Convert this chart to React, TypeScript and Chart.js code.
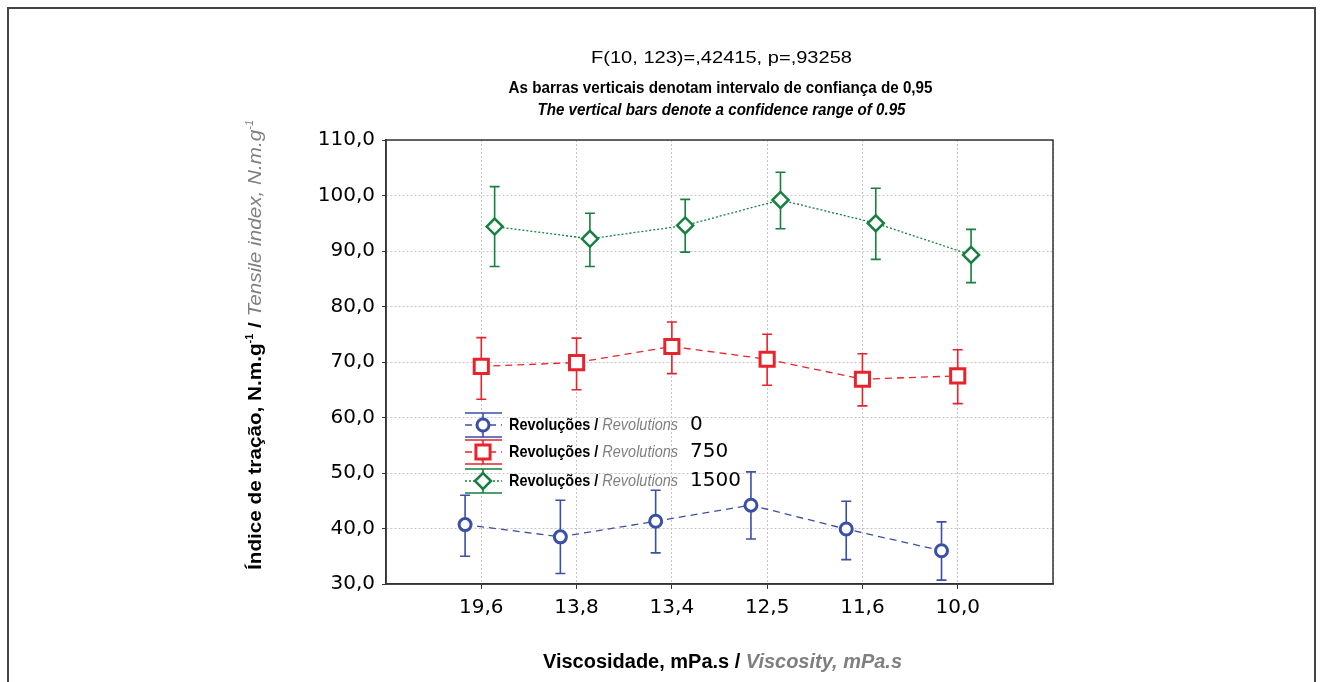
import React, { useEffect, useRef } from 'react';
import { Chart, registerables } from 'chart.js';

Chart.register(...registerables);

// ---- data ----
const categories = ['19,6', '13,8', '13,4', '12,5', '11,6', '10,0'];
const seriesNames = ['0', '750', '1500'];

const rev0Mean = [40.7, 38.5, 41.3, 44.2, 39.9, 36.0];
const rev0Low = [35.0, 31.9, 35.6, 38.1, 34.4, 30.7];
const rev0High = [46.0, 45.1, 46.9, 50.2, 44.9, 41.2];

const rev750Mean = [69.2, 69.9, 72.8, 70.5, 66.9, 67.5];
const rev750Low = [63.3, 65.0, 67.9, 65.8, 62.1, 62.5];
const rev750High = [74.4, 74.3, 77.2, 75.0, 71.5, 72.2];

const rev1500Mean = [94.4, 92.2, 94.6, 99.2, 95.0, 89.3];
const rev1500Low = [87.2, 87.2, 89.8, 94.0, 88.5, 84.3];
const rev1500High = [101.6, 96.8, 99.3, 104.2, 101.3, 93.9];

const yMin = 30;
const yMax = 110;
const yStep = 10;

const titleLine1 = 'F(10, 123)=,42415, p=,93258';
const titleLine2 = 'As barras verticais denotam intervalo de confiança de 0,95';
const titleLine3 = 'The vertical bars denote a confidence range of 0.95';

// ---- styles ----
const BLUE = '#3a4fa6';
const RED = '#e8232b';
const GREEN = '#15803f';
const GRAY_TXT = '#7f7f7f';
const SANS = '"Liberation Sans", Arial, sans-serif';
const NUMFONT = '"DejaVu Sans", sans-serif';

type Seg = { text: string; font: string; color: string; sup?: boolean };

function drawSegs(
  ctx: CanvasRenderingContext2D,
  segs: Seg[],
  x: number,
  y: number,
  align: 'center' | 'left',
  targetWidth?: number
) {
  ctx.save();
  ctx.textBaseline = 'middle';
  ctx.textAlign = 'left';
  let total = 0;
  const widths = segs.map((s) => {
    ctx.font = s.font;
    const w = ctx.measureText(s.text).width;
    total += w;
    return w;
  });
  const k = targetWidth ? targetWidth / total : 1;
  ctx.translate(x, y);
  ctx.scale(k, 1);
  let cx = align === 'center' ? -total / 2 : 0;
  segs.forEach((s, i) => {
    ctx.font = s.font;
    ctx.fillStyle = s.color;
    ctx.fillText(s.text, cx, s.sup ? -6 : 0);
    cx += widths[i];
  });
  ctx.restore();
}

const offsets = [-0.17, 0, 0.14];

function pts(means: number[], k: number) {
  return means.map((v, i) => ({ x: i + 1 + offsets[k], y: v }));
}

const lows = [rev0Low, rev750Low, rev1500Low];
const highs = [rev0High, rev750High, rev1500High];

export default function App() {
  const ref = useRef<HTMLCanvasElement | null>(null);

  useEffect(() => {
    if (!ref.current) return;

    const bgPlugin = {
      id: 'bgFrame',
      beforeDraw(chart: any) {
        const ctx = chart.ctx as CanvasRenderingContext2D;
        ctx.save();
        ctx.fillStyle = '#fff';
        ctx.fillRect(0, 0, chart.width, chart.height);
        ctx.strokeStyle = '#444';
        ctx.lineWidth = 2;
        ctx.beginPath();
        ctx.moveTo(8, chart.height + 5);
        ctx.lineTo(8, 8);
        ctx.lineTo(1315, 8);
        ctx.lineTo(1315, chart.height + 5);
        ctx.stroke();
        ctx.restore();
      },
    };

    const errPlugin = {
      id: 'errBars',
      beforeDatasetsDraw(chart: any) {
        const ctx = chart.ctx as CanvasRenderingContext2D;
        const xs = chart.scales.x;
        const ys = chart.scales.y;
        ctx.save();
        chart.data.datasets.forEach((ds: any, k: number) => {
          ctx.strokeStyle = ds.borderColor;
          ctx.lineWidth = 1.6;
          ctx.setLineDash([]);
          ds.data.forEach((p: any, i: number) => {
            const px = xs.getPixelForValue(p.x);
            const lo = ys.getPixelForValue(lows[k][i]);
            const hi = ys.getPixelForValue(highs[k][i]);
            ctx.beginPath();
            ctx.moveTo(px, lo);
            ctx.lineTo(px, hi);
            ctx.moveTo(px - 5, lo);
            ctx.lineTo(px + 5, lo);
            ctx.moveTo(px - 5, hi);
            ctx.lineTo(px + 5, hi);
            ctx.stroke();
          });
        });
        ctx.restore();
      },
    };

    const decoPlugin = {
      id: 'deco',
      afterDraw(chart: any) {
        const ctx = chart.ctx as CanvasRenderingContext2D;
        const a = chart.chartArea;
        // plot frame
        ctx.save();
        ctx.strokeStyle = '#333';
        ctx.lineWidth = 1.5;
        ctx.setLineDash([]);
        ctx.strokeRect(a.left, a.top, a.right - a.left, a.bottom - a.top);
        ctx.restore();

        const cx = (a.left + a.right) / 2;
        // titles
        drawSegs(ctx, [{ text: titleLine1, font: `17px ${SANS}`, color: '#000' }], cx + 2, 58, 'center', 261);
        drawSegs(ctx, [{ text: titleLine2, font: `bold 17px ${SANS}`, color: '#000' }], cx + 1, 88, 'center', 424);
        drawSegs(ctx, [{ text: titleLine3, font: `italic bold 17px ${SANS}`, color: '#000' }], cx + 2, 110, 'center', 368);

        // x title
        drawSegs(
          ctx,
          [
            { text: 'Viscosidade, mPa.s / ', font: `bold 20px ${SANS}`, color: '#000' },
            { text: 'Viscosity, mPa.s', font: `italic bold 20px ${SANS}`, color: GRAY_TXT },
          ],
          cx + 3,
          662,
          'center',
          359
        );

        // y title
        ctx.save();
        ctx.translate(256, 345);
        ctx.rotate(-Math.PI / 2);
        drawSegs(
          ctx,
          [
            { text: 'Índice de tração, N.m.g', font: `bold 19px ${SANS}`, color: '#000' },
            { text: '-1', font: `bold 10px ${SANS}`, color: '#000', sup: true },
            { text: ' / ', font: `bold 19px ${SANS}`, color: '#000' },
            { text: 'Tensile index, N.m.g', font: `italic 19px ${SANS}`, color: GRAY_TXT },
            { text: '-1', font: `italic 10px ${SANS}`, color: GRAY_TXT, sup: true },
          ],
          0,
          0,
          'center',
          450
        );
        ctx.restore();

        // legend
        const rows = [425, 452, 481];
        chart.data.datasets.forEach((ds: any, k: number) => {
          const cy = rows[k];
          const mx = 483;
          ctx.save();
          ctx.strokeStyle = ds.borderColor;
          ctx.lineWidth = 1.6;
          ctx.beginPath();
          ctx.moveTo(465, cy - 12);
          ctx.lineTo(502, cy - 12);
          ctx.moveTo(465, cy + 12);
          ctx.lineTo(502, cy + 12);
          ctx.moveTo(mx, cy - 12);
          ctx.lineTo(mx, cy + 12);
          ctx.stroke();
          ctx.setLineDash(ds.borderDash);
          ctx.lineWidth = ds.borderWidth;
          ctx.beginPath();
          ctx.moveTo(465, cy);
          ctx.lineTo(502, cy);
          ctx.stroke();
          ctx.setLineDash([]);
          ctx.fillStyle = '#fff';
          ctx.lineWidth = ds.pointBorderWidth;
          ctx.beginPath();
          const st = ds.pointStyle;
          const r = ds.pointRadius;
          if (st === 'circle') {
            ctx.arc(mx, cy, r, 0, Math.PI * 2);
          } else if (st === 'rect') {
            const s = Math.SQRT1_2 * r;
            ctx.rect(mx - s, cy - s, 2 * s, 2 * s);
          } else {
            ctx.moveTo(mx - r, cy);
            ctx.lineTo(mx, cy - r);
            ctx.lineTo(mx + r, cy);
            ctx.lineTo(mx, cy + r);
            ctx.closePath();
          }
          ctx.fill();
          ctx.stroke();
          ctx.restore();
          drawSegs(
            ctx,
            [
              { text: 'Revoluções / ', font: `bold 17px ${SANS}`, color: '#000' },
              { text: 'Revolutions', font: `italic 17px ${SANS}`, color: GRAY_TXT },
            ],
            509,
            cy,
            'left',
            169
          );
          drawSegs(ctx, [{ text: seriesNames[k], font: `20px ${NUMFONT}`, color: '#000' }], 690, cy, 'left');
        });
      },
    };

    const tickCol = (c: any) => {
      const v = c.tick ? c.tick.value : 0;
      return v === 0 || v === 7 ? 'rgba(0,0,0,0)' : '#333';
    };

    const chart = new Chart(ref.current, {
      type: 'scatter',
      data: {
        datasets: [
          {
            label: seriesNames[0],
            data: pts(rev0Mean, 0),
            showLine: true,
            borderColor: BLUE,
            backgroundColor: '#fff',
            borderWidth: 1.3,
            borderDash: [7, 5],
            pointStyle: 'circle',
            pointRadius: 6,
            pointBorderWidth: 3,
            pointBackgroundColor: '#fff',
            pointBorderColor: BLUE,
          } as any,
          {
            label: seriesNames[1],
            data: pts(rev750Mean, 1),
            showLine: true,
            borderColor: RED,
            backgroundColor: '#fff',
            borderWidth: 1.3,
            borderDash: [7, 5],
            pointStyle: 'rect',
            pointRadius: 10,
            pointBorderWidth: 3,
            pointBackgroundColor: '#fff',
            pointBorderColor: RED,
          } as any,
          {
            label: seriesNames[2],
            data: pts(rev1500Mean, 2),
            showLine: true,
            borderColor: GREEN,
            backgroundColor: '#fff',
            borderWidth: 1.3,
            borderDash: [2, 2],
            pointStyle: 'rectRot',
            pointRadius: 8,
            pointBorderWidth: 2.5,
            pointBackgroundColor: '#fff',
            pointBorderColor: GREEN,
          } as any,
        ],
      },
      options: {
        animation: false,
        responsive: false,
        maintainAspectRatio: false,
        layout: { padding: { left: 290, right: 269, top: 140, bottom: 58 } },
        plugins: { legend: { display: false }, tooltip: { enabled: false }, title: { display: false } },
        scales: {
          x: {
            type: 'linear',
            min: 0,
            max: 7,
            afterFit: (s: any) => {
              s.height = 40;
            },
            afterBuildTicks: (s: any) => {
              s.ticks = [0, 1, 2, 3, 4, 5, 6, 7].map((v) => ({ value: v }));
            },
            ticks: {
              autoSkip: false,
              maxRotation: 0,
              minRotation: 0,
              padding: 7,
              color: '#000',
              font: { family: 'DejaVu Sans', size: 20 },
              callback: (v: any) => {
                const i = Math.round(Number(v)) - 1;
                return i >= 0 && i < categories.length ? categories[i] : '';
              },
            },
            grid: {
              color: '#c4c4c4',
              lineWidth: 1,
              tickLength: 5,
              tickColor: tickCol,
              tickBorderDash: [],
            } as any,
            border: { display: true, color: '#333', width: 1.5, dash: [2, 2] } as any,
          },
          y: {
            type: 'linear',
            min: yMin,
            max: yMax,
            afterFit: (s: any) => {
              s.width = 96;
            },
            ticks: {
              stepSize: yStep,
              padding: 7,
              color: '#000',
              font: { family: 'DejaVu Sans', size: 20 },
              callback: (v: any) => Number(v).toFixed(1).replace('.', ','),
            },
            grid: {
              color: '#c4c4c4',
              lineWidth: 1,
              tickLength: 4,
              tickColor: '#333',
              tickBorderDash: [],
            } as any,
            border: { display: true, color: '#333', width: 1.5, dash: [2, 2] } as any,
          },
        },
      },
      plugins: [bgPlugin, errPlugin, decoPlugin],
    });

    return () => chart.destroy();
  }, []);

  return (
    <div style={{ position: 'fixed', left: 0, top: 0, width: 1322, height: 682, background: '#fff' }}>
      <canvas ref={ref} width={1322} height={682} style={{ width: 1322, height: 682, display: 'block' }} />
    </div>
  );
}
